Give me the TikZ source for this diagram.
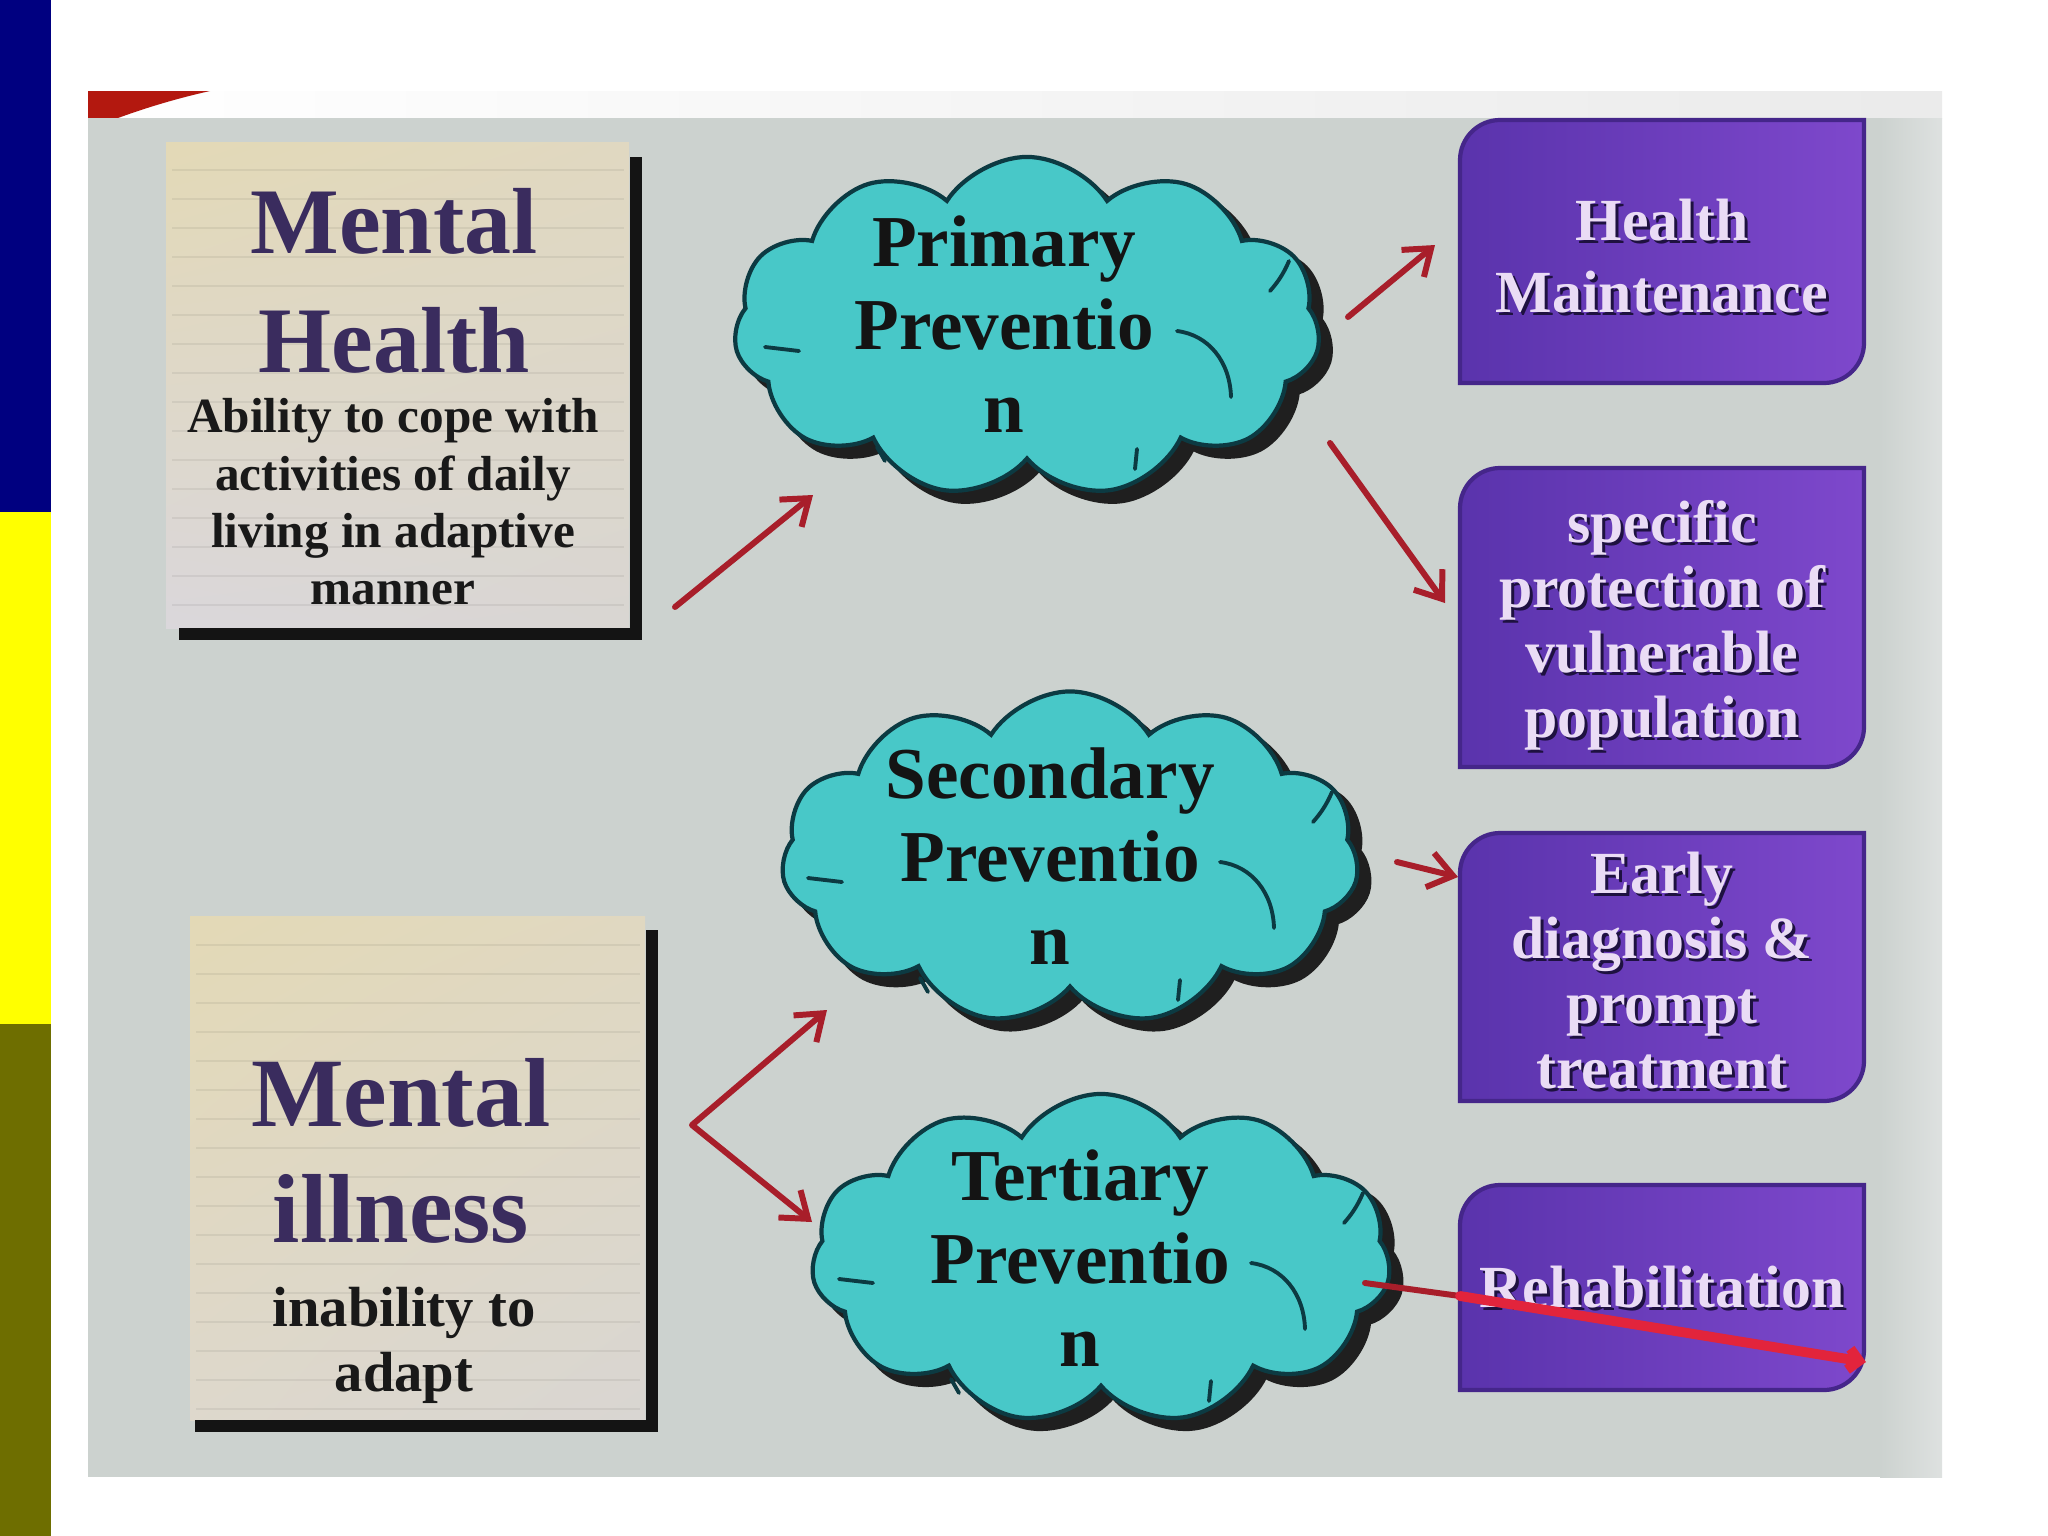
\documentclass[tikz,border=0pt]{standalone}
\usepackage{fontspec}
\setmainfont{Liberation Serif}
\usetikzlibrary{shapes.symbols,arrows.meta,shadings}
\definecolor{panel}{HTML}{CCD2CF}
\definecolor{panelR}{HTML}{DEE1E0}
\definecolor{swoosh}{HTML}{B3180F}
\definecolor{barblue}{HTML}{000080}
\definecolor{baryellow}{HTML}{FFFF00}
\definecolor{barolive}{HTML}{6E6E00}
\definecolor{beigeA}{HTML}{E3D9B6}
\definecolor{beigeB}{HTML}{DAD7DB}
\definecolor{beigeC}{HTML}{D9D6D2}
\definecolor{headpurple}{HTML}{3A2C5E}
\definecolor{cloudfill}{HTML}{48C8C8}
\definecolor{cloudline}{HTML}{0C3A42}
\definecolor{purpA}{HTML}{5A33AC}
\definecolor{purpB}{HTML}{7E48CC}
\definecolor{purpline}{HTML}{45268A}
\definecolor{lav}{HTML}{EADCF5}
\definecolor{lavshadow}{HTML}{1E1140}
\definecolor{arrred}{HTML}{A81E2A}
\definecolor{brightred}{HTML}{E2243C}
\newcommand{\cloudmarks}[2]{%
  \begin{scope}[shift={(#1,#2)}]
    \draw[cloudmark] (150,4) .. controls (182,8) and (203,35) .. (204,70);
    \draw[cloudmark] (262,-66) .. controls (256,-52) and (250,-44) .. (243,-36);
    \draw[cloudmark] (-262,20) -- (-228,24);
    \draw[cloudmark] (-150,120) -- (-142,134);
    \draw[cloudmark] (110,122) -- (108,142);
  \end{scope}}
\newcommand{\purplebox}[4]{%
  \shade[left color=purpA, right color=purpB, draw=purpline, line width=1.2pt]
    (#1,#4) -- (#1,#2+40) .. controls (#1,#2+18) and (#1+18,#2) .. (#1+40,#2)
    -- (#3,#2) -- (#3,#4-40) .. controls (#3,#4-18) and (#3-18,#4) .. (#3-40,#4) -- cycle;}
\begin{document}
\begin{tikzpicture}[x=0.01cm,y=-0.01cm,
  txt/.style={inner sep=0pt, align=center, anchor=north},
  headfont/.style={txt, text=headpurple, font=\fontsize{26.7}{33.6}\selectfont\bfseries},
  cloudtxt/.style={txt, text=black!92, font=\fontsize{20.8}{23.6}\selectfont\bfseries},
  boxtxt/.style={txt, text=lav, font=\fontsize{17}{18.5}\selectfont\bfseries},
  boxshadow/.style={txt, text=lavshadow, font=\fontsize{17}{18.5}\selectfont\bfseries},
  cloudshape/.style={cloud, cloud puffs=11, cloud puff arc=115, aspect=1.75, inner sep=0pt},
  cloudbody/.style={cloudshape, fill=cloudfill, draw=cloudline, line width=1.2pt},
  cloudshadow/.style={cloudshape, fill=black!88, draw=black!88, line width=1.2pt},
  cloudmark/.style={draw=cloudline, line width=1.1pt, line cap=round},
  arr/.style={draw=arrred, line width=1.7pt, line cap=round, line join=round},
  tipa/.tip={Straight Barb[length=6.8pt, width=10pt]},
  shadowL/.style={draw=black!92, line width=3.3pt},
  paperline/.style={draw=black, draw opacity=0.06, line width=0.7pt}
]
\useasboundingbox (0,0) rectangle (2048,1536);
\fill[white] (0,0) rectangle (2048,1536);
% side bars
\fill[barblue] (0,0) rectangle (51,512);
\fill[baryellow] (0,512) rectangle (51,1024);
\fill[barolive] (0,1024) rectangle (51,1536);
% top strip and panel
\shade[left color=white, right color=black!8] (88,91) rectangle (1942,118);
\fill[swoosh] (88,91) -- (210,91) .. controls (170,100) and (140,110) .. (118,118) -- (88,118) -- cycle;
\fill[panel] (88,118) rectangle (1942,1477);
\shade[left color=panel, right color=panelR] (1880,118) rectangle (1942,1477);

% ---------- Mental Health box ----------
\shade[upper left=beigeA, upper right=beigeA!70!beigeB, lower left=beigeB, lower right=beigeC] (166,142) rectangle (629,628);
\foreach \yy in {170,199,...,620} \draw[paperline] (172,\yy) -- (624,\yy);
\draw[shadowL] (636,157) -- (636,634) -- (179,634);
\node[headfont] (mhh) at (394,188) {Mental\\Health};
\node[txt, text=black!90, font=\fontsize{14}{16.3}\selectfont\bfseries] (mhs) at (393,398)
  {Ability to cope with\\activities of daily\\living in adaptive\\manner};

% ---------- Mental illness box ----------
\shade[upper left=beigeA, upper right=beigeA!70!beigeB, lower left=beigeB!60!beigeA, lower right=beigeC] (190,916) rectangle (645,1420);
\foreach \yy in {945,974,...,1410} \draw[paperline] (196,\yy) -- (640,\yy);
\draw[shadowL] (652,930) -- (652,1426) -- (195,1426);
\node[headfont, font=\fontsize{27.9}{33}\selectfont\bfseries] (mih) at (401,1058) {Mental\\illness};
\node[txt, text=black!90, font=\fontsize{16.1}{18.5}\selectfont\bfseries] (mis) at (404,1286)
  {inability to\\adapt};

% ---------- clouds ----------
% primary
\node[cloudshadow, minimum width=5.86cm, minimum height=3.4cm] (c1s) at (1039,338) {};
\node[cloudbody, minimum width=5.86cm, minimum height=3.4cm] (c1) at (1027,327) {};
\cloudmarks{1027}{327}
\node[cloudtxt] (c1t) at (1004,215) {Primary\\Preventio\\n};
% secondary
\node[cloudshadow, minimum width=5.77cm, minimum height=3.33cm] (c2s) at (1082,869) {};
\node[cloudbody, minimum width=5.77cm, minimum height=3.33cm] (c2) at (1070,858) {};
\cloudmarks{1070}{858}
\node[cloudtxt] (c2t) at (1050,747) {Secondary\\Preventio\\n};
% tertiary
\node[cloudshadow, minimum width=5.79cm, minimum height=3.3cm] (c3s) at (1113,1270) {};
\node[cloudbody, minimum width=5.79cm, minimum height=3.3cm] (c3) at (1101,1259) {};
\cloudmarks{1101}{1259}
\node[cloudtxt] (c3t) at (1080,1149) {Tertiary\\Preventio\\n};

% ---------- purple boxes ----------
\purplebox{1460}{120}{1864}{383}
\purplebox{1460}{468}{1864}{767}
\purplebox{1460}{833}{1864}{1101}
\purplebox{1460}{1185}{1864}{1390}

\node[boxshadow, font=\fontsize{17}{20.5}\selectfont\bfseries] (b1s) at (1665,201) {Health\\Maintenance};
\node[boxtxt, font=\fontsize{17}{20.5}\selectfont\bfseries] (b1) at (1662,198) {Health\\Maintenance};
\node[boxshadow] (b2s) at (1665,503) {specific\\protection of\\vulnerable\\population};
\node[boxtxt] (b2) at (1662,500) {specific\\protection of\\vulnerable\\population};
\node[boxshadow] (b3s) at (1665,854) {Early\\diagnosis \&\\prompt\\treatment};
\node[boxtxt] (b3) at (1662,851) {Early\\diagnosis \&\\prompt\\treatment};
\node[boxshadow] (b4s) at (1665,1268) {Rehabilitation};
\node[boxtxt] (b4) at (1662,1265) {Rehabilitation};

% ---------- arrows ----------
\coordinate (a1s) at (675,607);  \coordinate (a1e) at (813,495);
\coordinate (a2s) at (1348,317); \coordinate (a2e) at (1435,245);
\coordinate (a3s) at (1330,443); \coordinate (a3e) at (1445,603);
\coordinate (a4s) at (1397,862); \coordinate (a4e) at (1458,877);
\coordinate (a5u) at (827,1010); \coordinate (a5v) at (692,1125); \coordinate (a5d) at (812,1222);
\coordinate (a6s) at (1365,1283); \coordinate (a6m) at (1460,1296); \coordinate (a6e) at (1866,1362);

\draw[arr, -tipa] (a1s) -- (a1e);
\draw[arr, -tipa] (a2s) -- (a2e);
\draw[arr, -tipa] (a3s) -- (a3e);
\draw[arr, -tipa] (a4s) -- (a4e);
\draw[arr, tipa-tipa] (a5u) -- (a5v) -- (a5d);
\draw[arr] (a6s) -- (a6m);
\draw[draw=brightred, line width=2.8pt, line cap=round, -{Straight Barb[length=3pt, width=6pt]}] (a6m) -- (a6e);
\end{tikzpicture}
\end{document}
